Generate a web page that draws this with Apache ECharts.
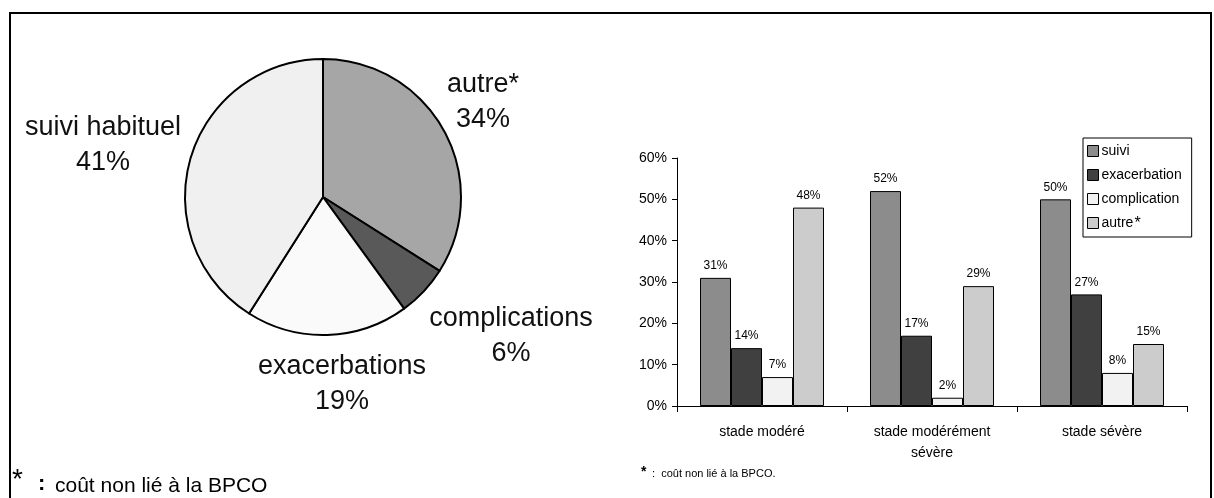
<!DOCTYPE html>
<html>
<head>
<meta charset="utf-8">
<script src="https://cdn.jsdelivr.net/npm/echarts@6/dist/echarts.min.js"></script>
<style>
  html, body { margin: 0; padding: 0; background: #fff; }
  #chart { width: 1214px; height: 498px; }
</style>
</head>
<body>
<div id="chart"></div>
<script>
// pie: cost breakdown
const pieNames = ['autre*', 'complications', 'exacerbations', 'suivi habituel']
const pieValues = [34, 6, 19, 41]
const pieColors = ['#a6a6a6', '#595959', '#fafafa', '#f0f0f0']
// label anchor (centre of the two text lines) for each slice
const pieLabelPos = [[483, 102], [511, 336], [342, 384], [103, 145]]

// bars: cost per stage
const stages = ['stade modéré', 'stade modérément\nsévère', 'stade sévère']
const barSeriesNames = ['suivi', 'exacerbation', 'complication', 'autre']
const suivi = [31, 52, 50]
const exacerbation = [14, 17, 27]
const complication = [7, 2, 8]
const autre = [48, 29, 15]
const barColors = ['#8c8c8c', '#404040', '#f2f2f2', '#cccccc']
const yTicks = [0, 10, 20, 30, 40, 50, 60]

const font = 'Liberation Sans, Arial, sans-serif'
const chart = echarts.init(document.getElementById('chart'))

const barData = [suivi, exacerbation, complication, autre]

const option = {
  backgroundColor: '#fff',
  animation: false,
  textStyle: { fontFamily: font, color: '#000' },
  grid: { left: 677, top: 158, width: 510, height: 248, containLabel: false },
  legend: {
    data: barSeriesNames,
    orient: 'vertical',
    left: 1083,
    top: 138,
    padding: [6, 10, 5, 4],
    itemGap: 10,
    itemWidth: 11,
    itemHeight: 11,
    icon: 'rect',
    backgroundColor: '#fff',
    borderColor: '#000',
    borderWidth: 1,
    borderRadius: 0,
    itemStyle: { borderColor: '#000', borderWidth: 1 },
    textStyle: {
      fontFamily: font, fontSize: 14, color: '#000', lineHeight: 14, padding: [0, 0, 0, -2],
      rich: { s: { fontSize: 16, verticalAlign: 'top', padding: [0, 0, 7, 1] } }
    },
    formatter: (name) => (name === 'autre' ? 'autre{s|*}' : name)
  },
  xAxis: {
    type: 'category',
    data: stages,
    axisLine: { lineStyle: { color: '#000', width: 1 } },
    axisTick: { show: true, length: 6, lineStyle: { color: '#000' } },
    axisLabel: { color: '#000', fontSize: 14, fontFamily: font, margin: 16, lineHeight: 21, interval: 0 },
    splitLine: { show: false }
  },
  yAxis: {
    type: 'value',
    min: yTicks[0],
    max: yTicks[yTicks.length - 1],
    interval: 10,
    axisLine: { show: true, lineStyle: { color: '#000', width: 1 } },
    axisTick: { show: true, length: 5, lineStyle: { color: '#000' } },
    axisLabel: { color: '#000', fontSize: 14, fontFamily: font, margin: 10, formatter: '{value}%' },
    splitLine: { show: false }
  },
  series: [
    {
      type: 'pie',
      name: 'coût',
      center: [323, 197],
      radius: 138,
      startAngle: 90,
      clockwise: true,
      avoidLabelOverlap: false,
      data: pieNames.map((n, i) => ({ name: n, value: pieValues[i], itemStyle: { color: pieColors[i] } })),
      itemStyle: { borderColor: '#000', borderWidth: 2 },
      label: {
        show: true,
        position: 'outside',
        formatter: '{b}\n{c}%',
        fontFamily: font,
        fontSize: 27,
        lineHeight: 35,
        color: '#111',
        align: 'center'
      },
      labelLine: { show: false },
      labelLayout: (p) => ({
        x: pieLabelPos[p.dataIndex][0],
        y: pieLabelPos[p.dataIndex][1],
        align: 'center',
        verticalAlign: 'middle'
      }),
      emphasis: { disabled: true }
    },
    ...barSeriesNames.map((n, i) => ({
      type: 'bar',
      name: n,
      data: barData[i],
      barWidth: 31,
      barGap: '0%',
      itemStyle: { color: barColors[i], borderColor: '#000', borderWidth: 1 },
      label: {
        show: true,
        position: 'top',
        distance: 6,
        formatter: '{c}%',
        fontFamily: font,
        fontSize: 12,
        color: '#000'
      },
      emphasis: { disabled: true }
    }))
  ],
  graphic: [
    {
      type: 'rect',
      shape: { x: 10, y: 13, width: 1201, height: 500 },
      style: { fill: 'none', stroke: '#000', lineWidth: 2 },
      silent: true
    },
    {
      type: 'text',
      left: 12,
      top: 466,
      style: { text: '*', font: '28px ' + font, fill: '#000' }
    },
    {
      type: 'text',
      left: 38,
      top: 473,
      style: { text: ':', font: 'bold 22px ' + font, fill: '#000' }
    },
    {
      type: 'text',
      left: 55,
      top: 476,
      style: { text: 'coût non lié à la BPCO', font: '21px ' + font, fill: '#000' }
    },
    {
      type: 'text',
      left: 641,
      top: 465,
      style: { text: '*', font: 'bold 14px ' + font, fill: '#000' }
    },
    {
      type: 'text',
      left: 652,
      top: 468,
      style: { text: ':  coût non lié à la BPCO.', font: '11px ' + font, fill: '#000' }
    }
  ]
}

chart.setOption(option)
</script>
</body>
</html>
